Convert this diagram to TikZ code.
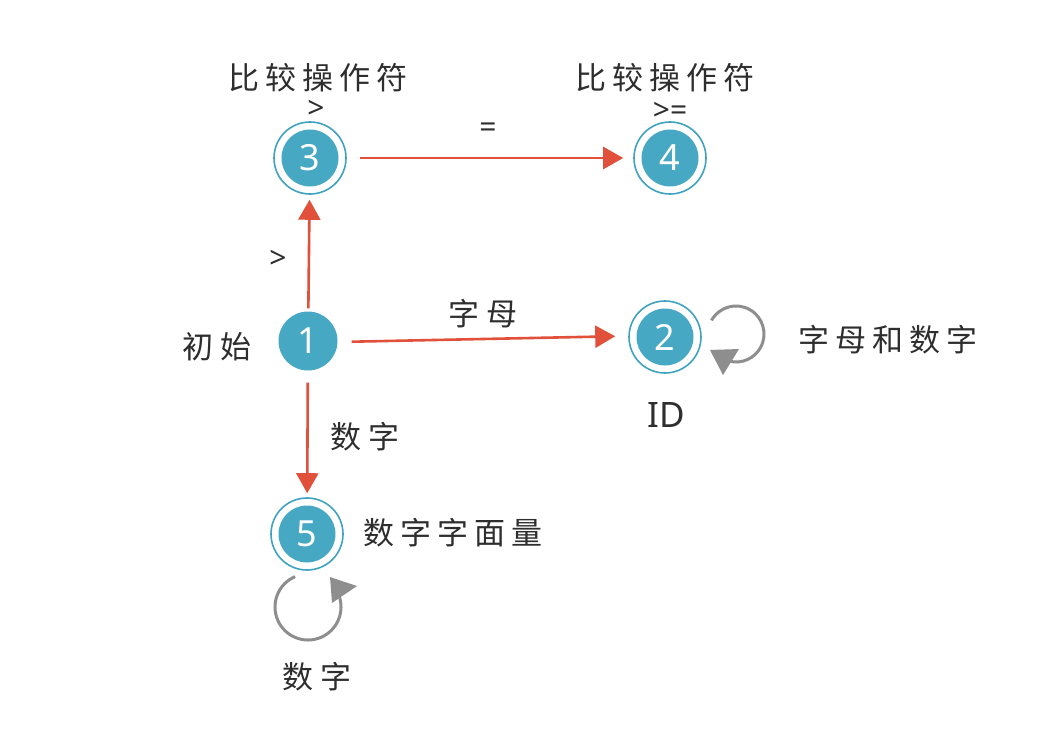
\documentclass[tikz,border=0pt]{standalone}
\usepackage{fontspec}
\newfontfamily\cjk[LetterSpace=20]{Noto Sans CJK SC}
\newfontfamily\latinf{Noto Sans}
\usetikzlibrary{arrows.meta}
\definecolor{nodeblue}{HTML}{47A8C4}
\definecolor{ringblue}{HTML}{3EA2C0}
\definecolor{arrowred}{HTML}{E0503A}
\definecolor{loopgray}{HTML}{8E8E8E}
\definecolor{txt}{HTML}{2E2E2E}
\tikzset{
  plainstate/.style={circle, fill=nodeblue, minimum size=59pt, inner sep=0pt,
    text=white, font=\latinf\fontsize{36}{36}\selectfont},
  ringstate/.style={circle, draw=ringblue, line width=1.6pt, minimum size=72pt, inner sep=0pt,
    text=white, font=\latinf\fontsize{36}{36}\selectfont,
    path picture={\fill[nodeblue] (path picture bounding box.center) circle (28.5pt);}},
  redarrow/.style={draw=arrowred, line width=2.6pt,
    -{Triangle[width=22pt,length=20pt,fill=arrowred]}},
  looparc/.style={draw=loopgray, line width=3pt},
  looptip/.style={fill=loopgray, draw=none},
  cjklabel/.style={text=txt, font=\cjk\fontsize{31}{31}\selectfont, inner sep=0pt},
  symlabel/.style={text=txt, font=\latinf\fontsize{30}{30}\selectfont, inner sep=0pt},
}
\begin{document}
\begin{tikzpicture}[x=1pt,y=-1pt]
\useasboundingbox[fill=white] (0,0) rectangle (1062,738);
% states
\node[plainstate] (n1) at (308,341) {1};
\node[ringstate] (n2) at (665,337) {2};
\node[ringstate] (n3) at (310,158) {3};
\node[ringstate] (n4) at (670,158) {4};
\node[ringstate] (n5) at (307,534) {5};
% transitions
\draw[redarrow, shorten <=3pt, shorten >=5pt] (n1) -- (n3);
\draw[redarrow, shorten <=13pt, shorten >=10pt] (n3) -- (n4);
\draw[redarrow, shorten <=14pt, shorten >=13pt] ([yshift=-1pt]n1.east) -- ([yshift=1pt]n2.west);
\draw[redarrow, shorten <=12pt, shorten >=4pt] (n1) -- (n5);
% self loops
\coordinate (c2) at (736,334);
\draw[looparc] (c2) ++(209:28) arc[start angle=209, end angle=462, radius=28];
\fill[looptip] (710,350) -- (739,349) -- (723,375) -- cycle;
\coordinate (c5) at (308,607);
\draw[looparc] (c5) ++(247:33) arc[start angle=247, end angle=-22, radius=33];
\fill[looptip] (330,577) -- (357,586) -- (332,603) -- cycle;
% labels
\node[cjklabel] (l3) at (318,78) {比较操作符};
\node[symlabel] (g3) at (316,109) {>};
\node[cjklabel] (l4) at (665,78) {比较操作符};
\node[symlabel] (g4) at (670,111) {>=};
\node[symlabel] (eq) at (488,130) {=};
\node[symlabel] (gt) at (278,259) {>};
\node[cjklabel] (init) at (217,347) {初始};
\node[cjklabel] (zm) at (483,314) {字母};
\node[cjklabel] (zmsz) at (888,340) {字母和数字};
\node[text=txt, font=\latinf\fontsize{35}{35}\selectfont, inner sep=0pt] (id) at (666,415) {ID};
\node[cjklabel] (sz1) at (365,437) {数字};
\node[cjklabel] (szzm) at (453,533) {数字字面量};
\node[cjklabel] (sz2) at (317,677) {数字};
\end{tikzpicture}
\end{document}
